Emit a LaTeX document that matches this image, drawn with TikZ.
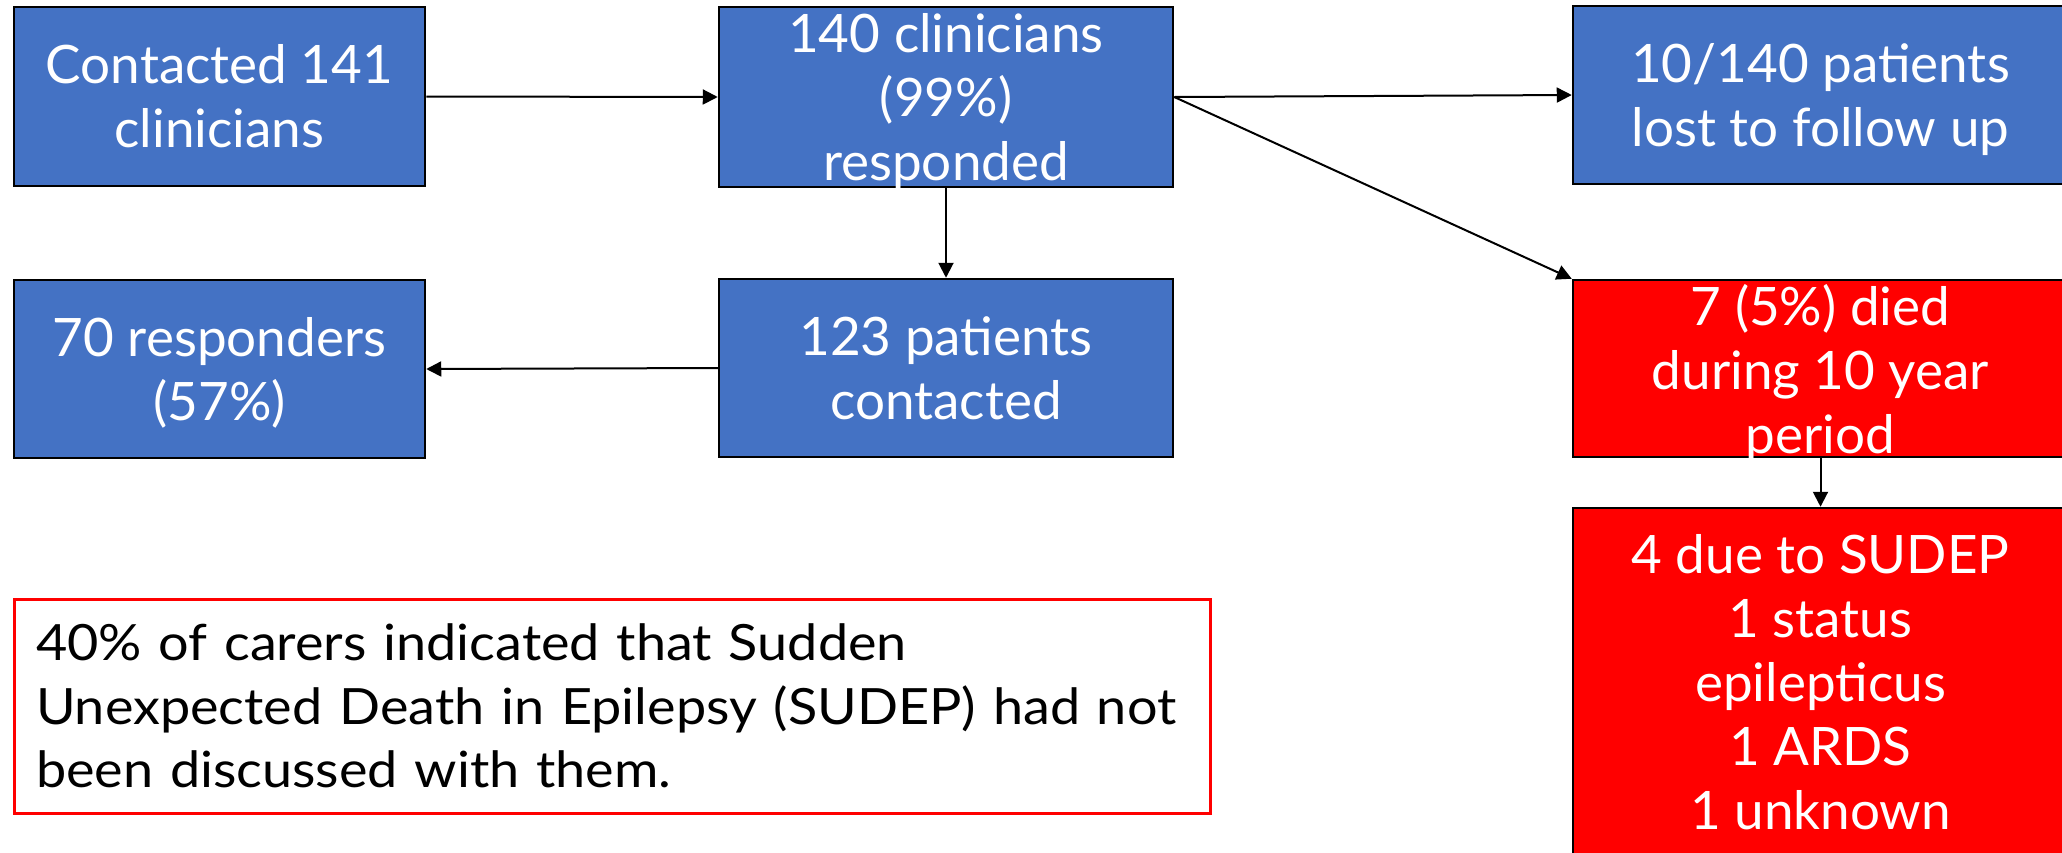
\documentclass[tikz,border=0pt]{standalone}
\usepackage{fontspec}
\setmainfont{Lato}
\newfontfamily\notefont{Lato}[FakeStretch=1.08]
\usetikzlibrary{arrows.meta}
\definecolor{boxblue}{HTML}{4472C4}
\definecolor{boxred}{HTML}{FF0000}
\newcommand{\nodepth}[1]{\raisebox{0pt}[\height][0pt]{#1}}
\begin{document}
\begin{tikzpicture}[x=1pt,y=-1pt,
  box/.style={draw=black, line width=2.5pt, rectangle, inner sep=0pt, text=white, align=center, font=\fontsize{53}{64}\selectfont},
  bluebox/.style={box, fill=boxblue},
  redbox/.style={box, fill=boxred},
  arr/.style={line width=2pt, -{Triangle[length=15pt,width=15pt]}}]
\useasboundingbox[fill=white] (0,0) rectangle (2062,852);
\node[bluebox, minimum width=411pt, minimum height=179pt] (a) at (219.5,96.5) {Contacted 141\\clinicians};
\node[bluebox, minimum width=454pt, minimum height=180pt] (b) at (946,97) {140 clinicians\\(99\%)\\\nodepth{responded}};
\node[bluebox, minimum width=495pt, minimum height=178pt] (c) at (1820.5,95) {10/140 patients\\\nodepth{lost to follow up}};
\node[bluebox, minimum width=411pt, minimum height=178pt] (d) at (219.5,369) {70 responders\\\nodepth{(57\%)}};
\node[bluebox, minimum width=454pt, minimum height=178pt] (e) at (946,368) {123 patients\\contacted};
\node[redbox, minimum width=495pt, minimum height=177pt] (f) at (1820.5,368.5) {7 (5\%) died\\during 10 year\\\nodepth{period}};
\node[redbox, minimum width=495pt, minimum height=348pt] (g) at (1820.5,682) {4 due to SUDEP\\1 status\\epilepticus\\1 ARDS\\1 unknown};
\node[draw=boxred, line width=3pt, rectangle, minimum width=1196pt, minimum height=214pt, inner xsep=22pt, inner ysep=0pt, text width=1152pt, align=left, font=\notefont\fontsize{50}{63.5}\selectfont] (note) at (612,706) {40\% of carers indicated that Sudden\\Unexpected Death in Epilepsy (SUDEP) had not\\been discussed with them.};
\draw[arr] (a.east) -- (b.west);
\draw[arr] (b.east) -- (c.west);
\draw[arr] (b.south) -- (e.north);
\draw[arr] (e.west) -- (d.east);
\draw[arr] (b.east) -- (f.north west);
\draw[arr] (f.south) -- (g.north);
\end{tikzpicture}
\end{document}
